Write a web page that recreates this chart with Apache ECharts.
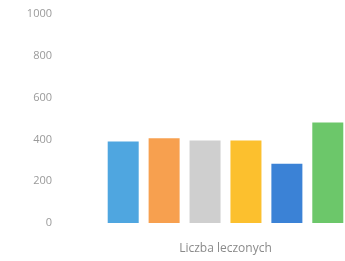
<!DOCTYPE html>
<html>
<head>
<meta charset="utf-8">
<script src="https://cdn.jsdelivr.net/npm/echarts@6/dist/echarts.min.js"></script>
<style>
  html, body { margin: 0; padding: 0; background: #fff; }
  #chart { width: 345px; height: 261px; }
</style>
</head>
<body>
<div id="chart"></div>
<script>
  var categories = ['Liczba leczonych'];
  var seriesNames = ['S1', 'S2', 'S3', 'S4', 'S5', 'S6'];
  var seriesValues = [[390], [405], [395], [395], [283], [481]];
  var colors = ['#4fa6e0', '#f7a04f', '#cfcfcf', '#fcc02e', '#3b82d6', '#6cc76a'];

  var chart = echarts.init(document.getElementById('chart'));
  var series = seriesNames.map(function (name, i) {
    return {
      name: name,
      type: 'bar',
      barWidth: 31,
      barGap: '32%',
      itemStyle: { color: colors[i] },
      data: seriesValues[i]
    };
  });

  chart.setOption({
    animation: false,
    grid: { left: 106, right: 0, top: 14, bottom: 38 },
    xAxis: {
      type: 'category',
      data: categories,
      axisLine: { show: false },
      axisTick: { show: false },
      axisLabel: { color: '#8a8a8a', fontSize: 12, fontFamily: 'Open Sans', margin: 20 }
    },
    yAxis: {
      type: 'value',
      min: 0,
      max: 1000,
      interval: 200,
      splitLine: { show: false },
      axisLine: { show: false },
      axisTick: { show: false },
      axisLabel: {
        color: '#9a9a9a', fontSize: 11, fontFamily: 'Open Sans', margin: 54,
        formatter: function (v) { return String(v); }
      }
    },
    series: series
  });
</script>
</body>
</html>
